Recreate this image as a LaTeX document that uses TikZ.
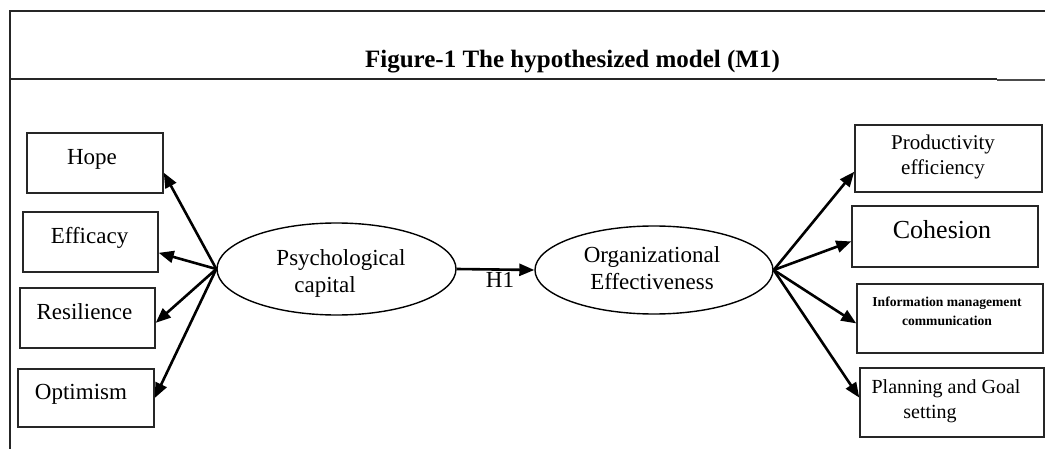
\documentclass[tikz,border=0pt]{standalone}
\usepackage{fontspec}
\setmainfont{Liberation Serif}
\usepackage{tikz}
\usetikzlibrary{shapes.geometric,arrows.meta}
\tikzset{
box/.style={draw=black!85,line width=0.75pt,rectangle,inner sep=0pt},
oval/.style={draw=black,line width=0.7pt,ellipse,inner sep=0pt},
lbl/.style={inner sep=0pt,font=\fontsize{11.5}{13.5}\selectfont,align=center},
frameline/.style={draw=black!85,line width=0.8pt},
patharrow/.style={-{Triangle[length=7.5pt,width=6pt]},line width=1.3pt,black}
}

\begin{document}
\begin{tikzpicture}[x=0.5pt,y=-0.5pt]
\useasboundingbox (0,0) rectangle (1045,449);
\draw[frameline] (10,449) -- (10,11) -- (1045,11);
\draw[frameline] (10,79) -- (997,79);
\draw[frameline,line width=1.2pt,black!70] (997,80) -- (1045,80);
\node[lbl,anchor=base,font=\fontsize{12.5}{15}\selectfont\bfseries] (title) at (572.5,68) {Figure-1 The hypothesized model (M1)};
\node[box,minimum width=68pt,minimum height=30pt] (hope) at (95,163) {};
\node[box,minimum width=67.5pt,minimum height=30pt] (efficacy) at (90.5,242) {};
\node[box,minimum width=67.5pt,minimum height=30pt] (resilience) at (87.5,318) {};
\node[box,minimum width=68pt,minimum height=29pt] (optimism) at (86,398) {};
\node[box,minimum width=93.5pt,minimum height=33.5pt] (prod) at (948.5,158.5) {};
\node[box,minimum width=93pt,minimum height=30.5pt] (cohesion) at (945,236.5) {};
\node[box,minimum width=93pt,minimum height=34.5pt] (info) at (950,318.5) {};
\node[box,minimum width=92pt,minimum height=34.5pt] (planning) at (952,402.5) {};
\node[oval,minimum width=119.5pt,minimum height=46pt] (psycap) at (336.5,269) {};
\node[oval,minimum width=119pt,minimum height=44pt] (orgeff) at (654,270) {};
\node[lbl,anchor=base] (hopetxt) at (92,164) {Hope};
\node[lbl,anchor=base] (efficacytxt) at (89.5,243) {Efficacy};
\node[lbl,anchor=base] (resiliencetxt) at (84.5,319) {Resilience};
\node[lbl,anchor=base] (optimismtxt) at (81,399) {Optimism};
\node[lbl] (psycaptxt) at (341,273) {Psychological\\\hspace*{-16pt}capital};
\node[lbl] (orgefftxt) at (652,268.5) {Organizational\\Effectiveness};
\node[lbl,anchor=base] (hone) at (500,287) {H1};
\node[lbl,font=\fontsize{10.5}{12.5}\selectfont] (prodtxt) at (943,156.5) {Productivity\\efficiency};
\node[lbl,anchor=base,font=\fontsize{13}{15}\selectfont] (cohesiontxt) at (942,238) {Cohesion};
\node[lbl,font=\fontsize{6.8}{9.5}\selectfont\bfseries] (infotxt) at (947,311.7) {Information management\\communication};
\node[lbl,font=\fontsize{10}{12.5}\selectfont] (planningtxt) at (946,400.8) {Planning and Goal\\\hspace*{-16pt}setting};
\draw[patharrow] (psycap.west) -- (hope.-8);
\draw[patharrow] (psycap.west) -- (efficacy.-9);
\draw[patharrow] (psycap.west) -- (resilience.-4);
\draw[patharrow] (psycap.west) -- (optimism.east);
\draw[patharrow] (psycap.east) -- (orgeff.west);
\draw[patharrow] (orgeff.east) -- (prod.188);
\draw[patharrow] (orgeff.east) -- (cohesion.183);
\draw[patharrow] (orgeff.east) -- (info.183);
\draw[patharrow] (orgeff.east) -- (planning.177);
\end{tikzpicture}
\end{document}
